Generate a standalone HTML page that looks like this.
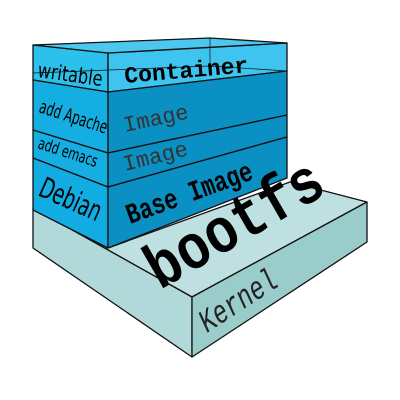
<!DOCTYPE html>
<html><head><style>html,body{margin:0;padding:0;background:#fff}svg{display:block}</style></head>
<body>
<svg width="400" height="400" viewBox="0 0 400 400" xmlns="http://www.w3.org/2000/svg">
<g stroke="#111" stroke-width="1.3" stroke-linejoin="round">
<polygon points="33,208 108,248 290,182 367,202 192,297" fill="#bfe0e0"/>
<polygon points="33,208 192,297 192,357 33,248" fill="#b2d9d9"/>
<polygon points="192,297 367,202 367,242 192,357" fill="#9acccc"/>
<polygon points="33,45 108,53 108,92 33,80" fill="#2cc0ec"/>
<polygon points="33,80 108,92 108,153 33,130" fill="#14aee2"/>
<polygon points="33,130 108,153 108,187 33,158" fill="#14aee2"/>
<polygon points="33,158 108,187 108,248 33,210" fill="#10ace2"/>
<polygon points="108,53 287,43 287,71 108,92" fill="#3ec4ee"/>
<polygon points="108,92 287,71 287,115 108,153" fill="#0a90c2"/>
<polygon points="108,153 287,115 287,137 108,187" fill="#0a90c2"/>
<polygon points="108,187 287,137 287,178 108,248" fill="#0a90c2"/>
<polygon points="33,45 210,38 287,43 108,53" fill="#4cc8f0"/>
<line x1="210" y1="38" x2="210" y2="66" stroke-width="0.7"/>
<line x1="33" y1="73" x2="210" y2="66" stroke-width="0.7"/>
<line x1="210" y1="66" x2="287" y2="71" stroke-width="0.7"/>
</g>
<g font-family="'DejaVu Sans','Liberation Sans',sans-serif" fill="#000">
<text transform="translate(37,77) rotate(8) scale(0.85,1.1)" font-size="19">writable</text>
<text transform="translate(38,112) rotate(18) scale(0.7,1.1)" font-size="17">add Apache</text>
<text transform="translate(37,148) rotate(18) scale(0.75,1.1)" font-size="15">add emacs</text>
<text transform="translate(37,195) rotate(24) scale(0.8,1.25)" font-size="23">Debian</text>
</g>
<g font-family="'Liberation Mono','DejaVu Sans Mono',monospace" fill="#000">
<text transform="translate(125,83) rotate(-5)" font-size="23" font-weight="bold">Container</text>
<text transform="translate(125,132) rotate(-12)" font-size="22" fill="#333">Image</text>
<text transform="translate(125,171) rotate(-14)" font-size="22" fill="#333">Image</text>
<text transform="translate(130,224) rotate(-20) scale(0.85,1.1)" font-size="26" font-weight="bold">Base Image</text>
<text transform="translate(160,290) rotate(-30) scale(1.15,1.35)" font-size="47" font-weight="bold">bootfs</text>
<text transform="translate(207,333) rotate(-33) scale(0.9,1.2)" font-size="27" font-style="italic" fill="#222">Kernel</text>
</g>
</svg>
</body></html>
